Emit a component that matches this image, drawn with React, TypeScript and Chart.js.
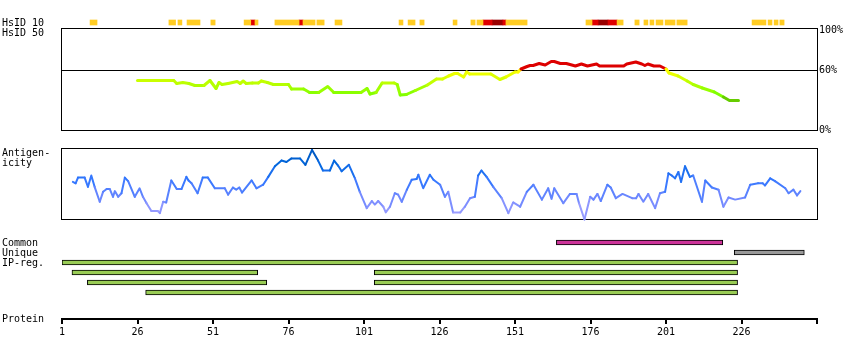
import React, { useEffect, useRef } from "react";
import { Chart, registerables } from "chart.js";

Chart.register(...registerables);

// ---------------- data ----------------
const PROTEIN_LENGTH = 251;
const PROTEIN_TICKS = [1, 26, 51, 76, 101, 126, 151, 176, 201, 226];
const IDENTITY_TICKS = [0, 60, 100];
const IDENTITY_THRESHOLD = 60;

const TRACK_LABELS = {
  hsid10: "HsID 10",
  hsid50: "HsID 50",
  antigen1: "Antigen-",
  antigen2: "icity",
  common: "Common",
  unique: "Unique",
  ipreg: "IP-reg.",
  protein: "Protein",
};

// HsID 50 identity profile (residue, % identity)
const IDENTITY_RES = [26, 38, 39, 41, 43, 45, 48, 50, 52, 53, 54, 56, 59, 60, 61, 62, 64, 66, 67, 69, 71, 76, 77, 81, 83, 86, 89, 91, 100, 102, 103, 105, 107, 111, 112, 113, 115, 118, 122, 125, 127, 129, 131, 132, 134, 135, 136, 143, 146, 148, 151, 152, 153, 155, 156, 157, 159, 161, 163, 164, 166, 168, 171, 173, 175, 178, 179, 187, 188, 191, 193, 194, 195, 197, 199, 201, 202, 205, 208, 210, 213, 217, 220, 222, 225];
const IDENTITY_PCT = [50, 50, 47, 48, 47, 45, 45, 50, 42, 48, 46, 47, 49, 47, 49.5, 47, 47.5, 47.5, 49.5, 48, 46, 46, 41.5, 41.5, 38, 38, 44, 38, 38, 42, 36.5, 38, 47.5, 47.5, 46, 35.5, 36, 40, 45.5, 51.5, 51.5, 54.5, 57, 57, 53.5, 58.5, 56.5, 56.5, 51, 53.5, 58.5, 58.5, 61.5, 64, 65, 65, 67, 65.5, 69, 69, 67, 67, 64.5, 66.5, 64.5, 66.5, 64.5, 64.5, 66.5, 68.5, 66.5, 65, 66.5, 64.5, 64.5, 61.5, 57.5, 54.5, 49.5, 46, 42.5, 38.5, 33.5, 30, 30];

// Antigenicity profile (residue, relative score 0-100)
const ANTIGEN_RES = [4.6, 5.5, 6.3, 8.5, 9.6, 10.7, 11.8, 13.5, 14.6, 15.8, 16.8, 17.9, 18.5, 19.6, 20.7, 21.8, 22.9, 25.1, 26.7, 27.8, 29, 30.6, 32.7, 33.4, 34.5, 35.5, 37.2, 39, 40.6, 42.2, 42.9, 43.9, 45.9, 47.6, 49.3, 51.6, 54.9, 56, 57.6, 58.7, 59.7, 60.6, 63.8, 65.4, 67.6, 69.3, 71.5, 73.7, 75.3, 77, 79.8, 81.6, 83.8, 85.8, 87.4, 89.7, 91.1, 92.4, 93.6, 96, 98, 99.6, 101.9, 103.6, 104.6, 105.7, 107.4, 108.2, 109.6, 111.2, 112.3, 113.5, 115.2, 116.8, 118.4, 119, 120.6, 122.8, 124, 126.2, 127.8, 128.9, 130.5, 132.9, 134.4, 136.1, 137.7, 138.8, 139.9, 141.6, 143.8, 146.6, 148.8, 150.4, 152.7, 154.9, 157.1, 159.9, 162, 163.1, 164, 167, 169.2, 171.4, 172.2, 174, 175.9, 177, 178.3, 179.4, 181.6, 182.7, 184.4, 186.6, 189.8, 191.1, 191.9, 193.5, 195.1, 197.4, 199, 200.7, 201.8, 202.9, 204, 205.1, 206, 207.3, 208.9, 210, 212.9, 214, 216.2, 218.4, 220, 221.7, 223.9, 227.2, 228.9, 231.5, 233, 233.8, 235.5, 237.1, 240.5, 241.6, 243.2, 244.4, 245.5];
const ANTIGEN_VAL = [53, 51, 59, 59, 46, 62, 46, 25, 39, 43, 43, 32, 40, 32, 37, 59, 54, 32, 44, 32, 23, 12, 12, 9, 25, 24, 55, 43, 43, 60, 55, 51, 37, 59, 59, 44, 44, 35, 45, 42, 45, 38, 55, 44, 49, 60, 75, 83, 81, 86, 86, 77, 98, 83, 69, 69, 83, 76, 68, 77, 58, 39, 16, 26, 21, 26, 18, 10, 18, 37, 35, 25, 42, 56, 57, 63, 44, 63, 56, 49, 32, 39, 10, 10, 18, 30, 32, 62, 69, 60, 46, 30, 9, 24, 18, 39, 49, 28, 44, 29, 44, 23, 36, 36, 23, 0, 32, 28, 36, 26, 49, 45, 30, 36, 30, 30, 36, 25, 36, 16, 37, 39, 65, 62, 58, 67, 53, 75, 60, 62, 25, 55, 45, 42, 18, 31, 28, 31, 49, 51, 51, 48, 58, 54, 44, 37, 42, 34, 40];

// HsID 10 strip: residue ranges by identity class
const HSID10_YELLOW = [[10.3, 12.6], [36.4, 38.6], [39.4, 40.7], [42.4, 46.7], [50.3, 51.7], [61.3, 63.5], [64.9, 65.9], [71.5, 79.5], [80.8, 84.8], [85.4, 87.8], [91.4, 93.7], [112.6, 113.9], [115.6, 117.9], [119.5, 120.9], [130.5, 131.8], [136.4, 137.8], [138.4, 140.4], [148.0, 155.0], [174.5, 176.5], [184.8, 186.8], [190.7, 192.1], [193.7, 195.0], [195.7, 197.0], [197.7, 200.0], [200.7, 204.0], [204.6, 208.0], [229.5, 234.1], [234.8, 236.1], [236.8, 238.1], [238.7, 240.1]];
const HSID10_RED = [[63.5, 64.9], [79.5, 80.8], [140.4, 143.4], [147.0, 148.0], [176.5, 178.5], [181.8, 184.8]];
const HSID10_DARKRED = [[143.4, 147.0], [178.5, 181.8]];

// Region tracks (residue ranges)
const COMMON_REGIONS = [[164.7, 219.8]];
const UNIQUE_REGIONS = [[223.6, 246.8]];
const IP_REG_ROW1 = [[1, 224.7]];
const IP_REG_ROW2 = [[4.3, 65.8], [104.4, 224.7]];
const IP_REG_ROW3 = [[9.4, 68.8], [104.4, 224.7]];
const IP_REG_ROW4 = [[28.7, 224.7]];

// ---------------- layout / style ----------------
const W = 850;
const H = 360;
const PLOT_LEFT = 62;
const RIGHT_AXIS_W = 33;
const AXIS_H = 41;
const AREA_TOP = 0;
const AREA_BOTTOM = H - AXIS_H;
const FONT_FAMILY = "'DejaVu Sans Mono', monospace";
const FONT = `10px ${FONT_FAMILY}`;
const ID_BOX_TOP = 102;

function fitRange(v0: number, p0: number, v1: number, p1: number) {
  const s = (p1 - p0) / (v1 - v0);
  const a = v0 + (AREA_TOP - p0) / s;
  const b = v0 + (AREA_BOTTOM - p0) / s;
  return { min: Math.min(a, b), max: Math.max(a, b), reverse: s > 0 };
}

const ID_RANGE = fitRange(0, 130.5, 100, 30.5);
const ANT_RANGE = fitRange(0, 219.5, 100, 148.5);
const HS_RANGE = fitRange(0, 22.5, 1, 32.5);
const ROW_RANGE = fitRange(0, 242.5, 1, 252.5);

function identityColor(p: number) {
  if (p > IDENTITY_THRESHOLD) return "#dd0000";
  const hue = Math.min(90, 60 + (IDENTITY_THRESHOLD - p) * 1.25);
  const light = p < 35 ? 40 : 50;
  return `hsl(${hue},100%,${light}%)`;
}

function antigenColor(v: number) {
  const stops: [number, number[]][] = [
    [0, [176, 168, 255]],
    [30, [112, 136, 255]],
    [55, [51, 119, 255]],
    [80, [0, 102, 221]],
    [100, [0, 80, 176]],
  ];
  const x = Math.max(0, Math.min(100, v));
  for (let i = 0; i < stops.length - 1; i++) {
    const [a, ca] = stops[i];
    const [b, cb] = stops[i + 1];
    if (x <= b) {
      const t = (x - a) / (b - a);
      const c = ca.map((q, k) => Math.round(q + (cb[k] - q) * t));
      return `rgb(${c[0]},${c[1]},${c[2]})`;
    }
  }
  return "rgb(0,80,176)";
}

const crisp = (p: number) => Math.round(p - 0.5) + 0.5;

const panelPlugin = {
  id: "panels",
  beforeDatasetsDraw(chart: any) {
    const { ctx } = chart;
    const x = chart.scales.x;
    const yId = chart.scales.yId;
    const yAnt = chart.scales.yAnt;
    const left = Math.round(x.getPixelForValue(1)) - 0.5;
    const right = Math.round(x.getPixelForValue(PROTEIN_LENGTH)) + 0.5;
    ctx.save();
    ctx.strokeStyle = "#000";
    ctx.lineWidth = 1;
    const box = (t: number, b: number) => {
      ctx.strokeRect(left, t, right - left, b - t);
    };
    box(crisp(yId.getPixelForValue(ID_BOX_TOP)), crisp(yId.getPixelForValue(0)));
    box(crisp(yAnt.getPixelForValue(100)), crisp(yAnt.getPixelForValue(0)));
    ctx.restore();
  },
  afterDraw(chart: any) {
    const { ctx } = chart;
    const yHs = chart.scales.yHs;
    const yRows = chart.scales.yRows;
    const yAnt = chart.scales.yAnt;
    const x = chart.scales.x;
    ctx.save();
    ctx.font = FONT;
    ctx.fillStyle = "#000";
    ctx.textAlign = "left";
    ctx.textBaseline = "alphabetic";
    const lx = 2;
    ctx.fillText(TRACK_LABELS.hsid10, lx, yHs.getPixelForValue(0) + 3.5);
    ctx.fillText(TRACK_LABELS.hsid50, lx, yHs.getPixelForValue(1) + 3.5);
    const antTop = yAnt.getPixelForValue(100);
    ctx.fillText(TRACK_LABELS.antigen1, lx, antTop + 7.5);
    ctx.fillText(TRACK_LABELS.antigen2, lx, antTop + 17.5);
    ctx.fillText(TRACK_LABELS.common, lx, yRows.getPixelForValue(0) + 3.5);
    ctx.fillText(TRACK_LABELS.unique, lx, yRows.getPixelForValue(1) + 3.5);
    ctx.fillText(TRACK_LABELS.ipreg, lx, yRows.getPixelForValue(2) + 3.5);
    ctx.fillText(TRACK_LABELS.protein, lx, x.top + 3);
    ctx.restore();
  },
};

function rangeBars(label: string, axisId: string, rows: [number, number[][]][], fill: string, border?: string) {
  return {
    type: "bar",
    label,
    indexAxis: "y",
    xAxisID: "x",
    yAxisID: axisId,
    data: rows.flatMap(([row, segs]) => segs.map(([a, b]) => ({ y: row, x: [a, b] }))),
    backgroundColor: fill,
    borderColor: border || fill,
    borderWidth: border ? 1 : 0,
    borderSkipped: false,
    borderRadius: 0,
    barThickness: 5,
    grouped: false,
    order: 2,
  };
}

function hiddenScale(r: { min: number; max: number; reverse: boolean }) {
  return {
    type: "linear",
    axis: "y",
    display: false,
    min: r.min,
    max: r.max,
    reverse: r.reverse,
    bounds: "data",
    offset: false,
    beginAtZero: false,
    grid: { offset: false },
  };
}

function buildConfig(): any {
  return {
    type: "line",
    data: {
      datasets: [
        {
          type: "line",
          label: "HsID 50",
          xAxisID: "x",
          yAxisID: "yId",
          data: IDENTITY_RES.map((r, i) => ({ x: r, y: IDENTITY_PCT[i] })),
          borderColor: identityColor(50),
          borderWidth: 3,
          pointRadius: 0,
          tension: 0,
          fill: false,
          borderCapStyle: "round",
          borderJoinStyle: "round",
          segment: {
            borderColor: (c: any) => identityColor((c.p0.parsed.y + c.p1.parsed.y) / 2),
          },
          order: 1,
        },
        {
          type: "line",
          label: "Antigenicity",
          xAxisID: "x",
          yAxisID: "yAnt",
          data: ANTIGEN_RES.map((r, i) => ({ x: r, y: ANTIGEN_VAL[i] })),
          borderColor: antigenColor(50),
          borderWidth: 2,
          pointRadius: 0,
          tension: 0,
          fill: false,
          borderCapStyle: "round",
          borderJoinStyle: "round",
          segment: {
            borderColor: (c: any) => antigenColor((c.p0.parsed.y + c.p1.parsed.y) / 2),
          },
          order: 1,
        },
        rangeBars("HsID 10 (medium)", "yHs", [[0, HSID10_YELLOW]], "#ffcc22"),
        rangeBars("HsID 10 (high)", "yHs", [[0, HSID10_RED]], "#e00000"),
        rangeBars("HsID 10 (very high)", "yHs", [[0, HSID10_DARKRED]], "#9a0000"),
        rangeBars("Common", "yRows", [[0, COMMON_REGIONS]], "#cc3399", "#000"),
        rangeBars("Unique", "yRows", [[1, UNIQUE_REGIONS]], "#999999", "#000"),
        rangeBars(
          "IP-reg.",
          "yRows",
          [
            [2, IP_REG_ROW1],
            [3, IP_REG_ROW2],
            [4, IP_REG_ROW3],
            [5, IP_REG_ROW4],
          ],
          "#99cc55",
          "#000"
        ),
      ],
    },
    options: {
      animation: false,
      responsive: false,
      maintainAspectRatio: false,
      devicePixelRatio: 1,
      events: [],
      layout: { padding: { left: PLOT_LEFT, right: 0, top: AREA_TOP, bottom: 0 } },
      plugins: {
        legend: { display: false },
        tooltip: { enabled: false },
        title: { display: false },
      },
      scales: {
        x: {
          type: "linear",
          axis: "x",
          position: "bottom",
          min: 1,
          max: PROTEIN_LENGTH,
          offset: false,
          beginAtZero: false,
          bounds: "data",
          afterBuildTicks: (s: any) => {
            s.ticks = [...PROTEIN_TICKS, PROTEIN_LENGTH].map((v) => ({ value: v }));
          },
          afterFit: (s: any) => {
            s.height = AXIS_H;
            s.paddingLeft = 0;
            s.paddingRight = 0;
          },
          ticks: {
            autoSkip: false,
            maxRotation: 0,
            padding: 2,
            color: "#000",
            font: { family: FONT_FAMILY, size: 10 },
            callback: (v: number) => (v === PROTEIN_LENGTH ? "" : String(v)),
          },
          grid: {
            display: true,
            drawOnChartArea: false,
            drawTicks: true,
            tickLength: 5,
            lineWidth: 2,
            color: "#000",
            offset: false,
          },
          border: { display: true, width: 2, color: "#000" },
        },
        yId: {
          type: "linear",
          axis: "y",
          position: "right",
          min: ID_RANGE.min,
          max: ID_RANGE.max,
          bounds: "data",
          offset: false,
          beginAtZero: false,
          afterBuildTicks: (s: any) => {
            s.ticks = IDENTITY_TICKS.map((v) => ({ value: v }));
          },
          afterFit: (s: any) => {
            s.width = RIGHT_AXIS_W;
            s.paddingTop = 0;
            s.paddingBottom = 0;
          },
          ticks: {
            autoSkip: false,
            padding: 2,
            color: "#000",
            font: { family: FONT_FAMILY, size: 10 },
            callback: (v: number) => `${v}%`,
          },
          grid: {
            display: true,
            drawOnChartArea: true,
            drawTicks: false,
            lineWidth: 1,
            color: (c: any) => (c.tick && c.tick.value === IDENTITY_THRESHOLD ? "#000" : "rgba(0,0,0,0)"),
          },
          border: { display: false },
        },
        yAnt: hiddenScale(ANT_RANGE),
        yHs: hiddenScale(HS_RANGE),
        yRows: hiddenScale(ROW_RANGE),
      },
    },
    plugins: [panelPlugin],
  };
}

export default function App() {
  const ref = useRef<HTMLCanvasElement>(null);
  useEffect(() => {
    if (!ref.current) return;
    const chart = new Chart(ref.current, buildConfig());
    return () => chart.destroy();
  }, []);
  return (
    <div style={{ position: "absolute", left: 0, top: 0, width: W, height: H, background: "#fff" }}>
      <canvas ref={ref} width={W} height={H} style={{ display: "block", width: W, height: H }} />
    </div>
  );
}
